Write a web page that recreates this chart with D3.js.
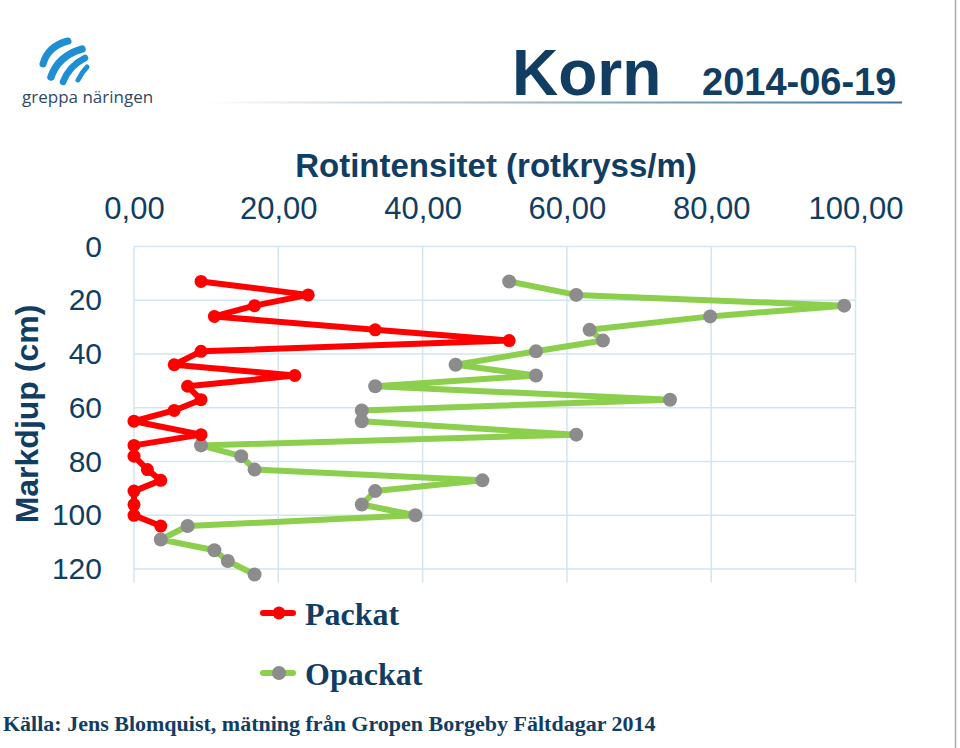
<!DOCTYPE html>
<html>
<head>
<meta charset="utf-8">
<script src="https://cdn.jsdelivr.net/npm/d3@7"></script>
<style>
  body { margin: 0; background: #fff; }
  svg { display: block; }
</style>
</head>
<body>
<div id="chart"></div>
<script>
// depth of each measuring point (cm)
var depths = [13, 18, 22, 26, 31, 35, 39, 44, 48, 52, 57, 61, 65, 70, 74, 78, 83, 87, 91, 96, 100, 104, 109, 113, 117, 122]

// root crossings per metre
var packat = [9.29, 24.14, 16.71, 11.14, 33.43, 52.0, 9.29, 5.57, 22.29, 7.43, 9.29, 5.57,
              0, 9.29, 0, 0, 1.86, 3.71, 0, 0, 0, 3.71]
var opackat = [52.0, 61.29, 98.43, 79.86, 63.14, 65.0, 55.71, 44.57, 55.71, 33.43, 74.29, 31.57,
               31.57, 61.29, 9.29, 14.86, 16.71, 48.29, 33.43, 31.57, 39.0, 7.43, 3.71, 11.14, 13.0, 16.71]

var xTicks = [0, 20, 40, 60, 80, 100]
var yTicks = [0, 20, 40, 60, 80, 100, 120]

var seriesNames = ["Packat", "Opackat"]

var textColor = "#123d62"
var gridColor = "#d2e5f1"

var width = 960, height = 748

var svg = d3.select("#chart")
  .append("svg")
  .attr("width", width)
  .attr("height", height)

var x = d3.scaleLinear().domain([0, 100]).range([134, 855.5])
var y = d3.scaleLinear().domain([0, 125]).range([246.5, 582.5])

var fmt = d3.formatLocale({decimal: ",", thousands: " ", grouping: [3], currency: ["", ""]}).format(".2f")

// right edge border of the slide
svg.append("line")
  .attr("x1", 955.5).attr("x2", 955.5)
  .attr("y1", 0).attr("y2", height)
  .attr("stroke", "#a8a8a8")
  .attr("stroke-width", 1.5)

// ---- logo
var logo = svg.append("g").attr("fill", "none").attr("stroke", "#1e8fd2").attr("stroke-linecap", "round")
logo.append("path").attr("d", "M43,64 Q48,46 68,41").attr("stroke-width", 7)
logo.append("path").attr("d", "M51,77 Q58,56 82,49").attr("stroke-width", 7.5)
logo.append("path").attr("d", "M63,82 Q69,66 85,58").attr("stroke-width", 6.5)
logo.append("path").attr("d", "M78,80 Q82,72 87,67").attr("stroke-width", 5)

svg.append("text")
  .attr("x", 22).attr("y", 103)
  .style("font-family", "'Open Sans', 'Noto Sans', sans-serif")
  .style("font-size", "17px")
  .style("fill", "#2f4a62")
  .text("greppa näringen")

// ---- header
var grad = svg.append("defs").append("linearGradient")
  .attr("id", "hdr").attr("x1", "0%").attr("x2", "100%")
grad.append("stop").attr("offset", "0%").attr("stop-color", "#ffffff")
grad.append("stop").attr("offset", "25%").attr("stop-color", "#c9d4dc")
grad.append("stop").attr("offset", "100%").attr("stop-color", "#3f7396")

svg.append("rect")
  .attr("x", 205).attr("y", 101.5)
  .attr("width", 697).attr("height", 2)
  .attr("fill", "url(#hdr)")

svg.append("text")
  .attr("x", 512).attr("y", 95)
  .style("font-family", "'Liberation Sans', Arial, sans-serif")
  .style("font-weight", "bold")
  .style("font-size", "64px")
  .style("fill", textColor)
  .text("Korn")

svg.append("text")
  .attr("x", 702).attr("y", 95)
  .style("font-family", "'Liberation Sans', Arial, sans-serif")
  .style("font-weight", "bold")
  .style("font-size", "38px")
  .style("fill", textColor)
  .text("2014-06-19")

// ---- grid
var grid = svg.append("g").attr("stroke", gridColor).attr("stroke-width", 1.5)

grid.selectAll(".vg")
  .data(xTicks)
  .enter().append("line")
  .attr("class", "vg")
  .attr("x1", function(d) { return x(d) })
  .attr("x2", function(d) { return x(d) })
  .attr("y1", y(0))
  .attr("y2", y(125))

grid.selectAll(".hg")
  .data(yTicks)
  .enter().append("line")
  .attr("class", "hg")
  .attr("x1", x(0))
  .attr("x2", x(100))
  .attr("y1", function(d) { return y(d) })
  .attr("y2", function(d) { return y(d) })

// ---- axes
var xAxis = svg.append("g")
  .attr("transform", "translate(0," + y(0) + ")")
  .call(d3.axisTop(x).tickValues(xTicks).tickSize(0).tickPadding(28).tickFormat(fmt))
xAxis.select(".domain").remove()
xAxis.selectAll("text")
  .style("font-family", "'Liberation Sans', Arial, sans-serif")
  .style("font-size", "31px")
  .style("fill", textColor)

var yAxis = svg.append("g")
  .attr("transform", "translate(" + x(0) + ",0)")
  .call(d3.axisLeft(y).tickValues(yTicks).tickSize(0).tickPadding(32))
yAxis.select(".domain").remove()
yAxis.selectAll("text")
  .style("font-family", "'Liberation Sans', Arial, sans-serif")
  .style("font-size", "30px")
  .style("fill", textColor)

svg.append("text")
  .attr("x", 496).attr("y", 177)
  .attr("text-anchor", "middle")
  .style("font-family", "'Liberation Sans', Arial, sans-serif")
  .style("font-weight", "bold")
  .style("font-size", "33px")
  .style("fill", textColor)
  .text("Rotintensitet (rotkryss/m)")

svg.append("text")
  .attr("transform", "translate(38,414) rotate(-90)")
  .attr("text-anchor", "middle")
  .style("font-family", "'Liberation Sans', Arial, sans-serif")
  .style("font-weight", "bold")
  .style("font-size", "32px")
  .style("fill", textColor)
  .text("Markdjup (cm)")

// ---- series
var series = [
  {name: seriesNames[0], values: packat, line: "#ff0000", dot: "#ff0000", r: 6.5},
  {name: seriesNames[1], values: opackat, line: "#8ccf4d", dot: "#8c8c8c", r: 7}
]

var line = d3.line()
  .x(function(d) { return x(d.v) })
  .y(function(d) { return y(d.d) })

// draw green first so red sits on top where they meet
series.slice().reverse().forEach(function(s) {
  var pts = s.values.map(function(v, i) { return {v: v, d: depths[i]} })
  svg.append("path")
    .datum(pts)
    .attr("fill", "none")
    .attr("stroke", s.line)
    .attr("stroke-width", 6)
    .attr("stroke-linejoin", "round")
    .attr("d", line)
  svg.selectAll(null)
    .data(pts)
    .enter().append("circle")
    .attr("cx", function(d) { return x(d.v) })
    .attr("cy", function(d) { return y(d.d) })
    .attr("r", s.r)
    .attr("fill", s.dot)
})

// ---- legend
var legend = svg.selectAll(".leg")
  .data(series)
  .enter().append("g")
  .attr("class", "leg")
  .attr("transform", function(d, i) { return "translate(263," + (613 + i * 60) + ")" })

legend.append("line")
  .attr("x1", 0).attr("x2", 30)
  .attr("stroke", function(d) { return d.line })
  .attr("stroke-width", 6)
  .attr("stroke-linecap", "round")
legend.append("circle")
  .attr("cx", 16).attr("r", function(d) { return d.r })
  .attr("fill", function(d) { return d.dot })
legend.append("text")
  .attr("x", 42).attr("y", 12)
  .style("font-family", "'Liberation Serif', 'Times New Roman', serif")
  .style("font-weight", "bold")
  .style("font-size", "32px")
  .style("fill", textColor)
  .text(function(d) { return d.name })

// ---- source
svg.append("text")
  .attr("x", 3).attr("y", 731)
  .style("font-family", "'Liberation Serif', 'Times New Roman', serif")
  .style("font-weight", "bold")
  .style("font-size", "22px")
  .style("fill", textColor)
  .text("Källa: Jens Blomquist, mätning från Gropen Borgeby Fältdagar 2014")
</script>
</body>
</html>
